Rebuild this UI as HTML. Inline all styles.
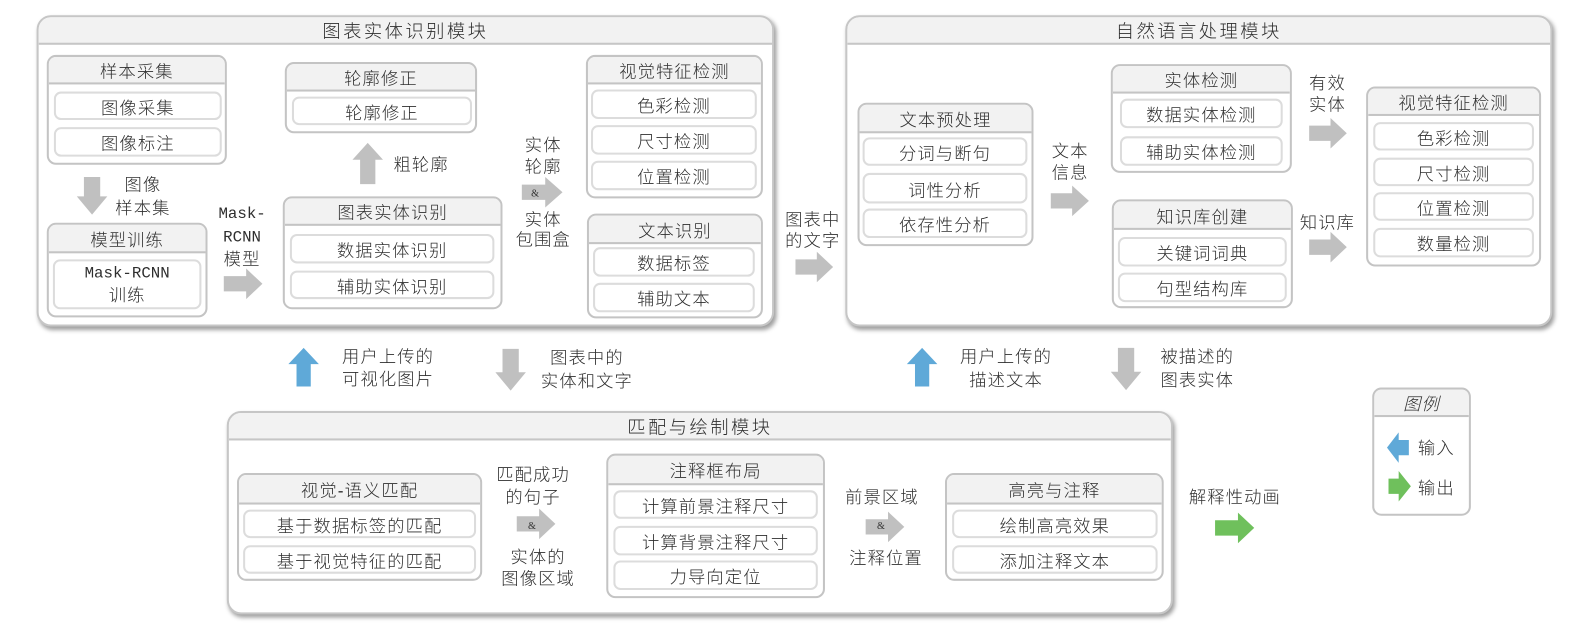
<!DOCTYPE html>
<html><head><meta charset="utf-8">
<style>
html,body{margin:0;padding:0;background:#fff;}
body{width:1595px;height:642px;overflow:hidden;position:relative;}
#c{position:absolute;left:0;top:0;width:1568px;height:632px;transform:scale(1.01722);transform-origin:0 0;
font-family:"Liberation Sans","Noto Sans CJK SC",sans-serif;font-weight:300;color:#2e2e2e;font-size:17px;letter-spacing:1.1px;}
.m{position:absolute;box-sizing:border-box;border:2px solid #c6c6c6;border-radius:14px;background:#fff;box-shadow:2px 3px 4px rgba(0,0,0,.38);overflow:hidden;}
.g{position:absolute;box-sizing:border-box;border:2px solid #c4c4c4;border-radius:9px;background:#fff;overflow:hidden;}
.h{position:absolute;left:0;top:0;right:0;box-sizing:border-box;background:#f2f2f2;border-bottom:2px solid #c4c4c4;display:flex;align-items:center;justify-content:center;white-space:nowrap;}
.m>.h{font-size:18px;letter-spacing:2.4px;border-bottom-color:#c6c6c6;}
.i{position:absolute;box-sizing:border-box;border:2px solid #dcdcdc;border-radius:7px;background:#fff;display:flex;align-items:center;justify-content:center;white-space:nowrap;text-align:center;}
.t{position:absolute;transform:translate(-50%,-50%);white-space:nowrap;line-height:1;}
.mono{font-family:"Liberation Mono",monospace;font-size:15.5px;letter-spacing:0;}
.amp{font-family:"Liberation Serif",serif;font-size:10px;letter-spacing:0;color:#333;}
svg{position:absolute;left:0;top:0;}
</style></head><body><div id="c">

<!-- main modules -->
<div class="m" style="left:36px;top:15px;width:725px;height:306px;"><div class="h" style="height:27px;">图表实体识别模块</div></div>
<div class="m" style="left:831px;top:15px;width:695px;height:306px;"><div class="h" style="height:27px;">自然语言处理模块</div></div>
<div class="m" style="left:223px;top:404px;width:930px;height:200px;"><div class="h" style="height:27px;">匹配与绘制模块</div></div>

<!-- module 1 groups -->
<div class="g" style="left:46px;top:54px;width:177px;height:108px;"><div class="h" style="height:27px;">样本采集</div></div>
<div class="i" style="left:53px;top:90px;width:165px;height:28px;">图像采集</div>
<div class="i" style="left:53px;top:125px;width:165px;height:29px;">图像标注</div>

<div class="g" style="left:46px;top:219px;width:158px;height:93px;"><div class="h" style="height:28px;">模型训练</div></div>
<div class="i" style="left:52px;top:255px;width:146px;height:49px;flex-direction:column;line-height:22px;"><span class="mono">Mask-RCNN</span><span>训练</span></div>

<div class="g" style="left:280px;top:61px;width:189px;height:70px;"><div class="h" style="height:27px;">轮廓修正</div></div>
<div class="i" style="left:287px;top:95px;width:177px;height:28px;">轮廓修正</div>

<div class="g" style="left:278px;top:193px;width:216px;height:111px;"><div class="h" style="height:27px;">图表实体识别</div></div>
<div class="i" style="left:285px;top:230px;width:201px;height:29px;">数据实体识别</div>
<div class="i" style="left:285px;top:266px;width:201px;height:28px;">辅助实体识别</div>

<div class="g" style="left:576px;top:54px;width:174px;height:141px;"><div class="h" style="height:27px;">视觉特征检测</div></div>
<div class="i" style="left:581px;top:88px;width:163px;height:29px;">色彩检测</div>
<div class="i" style="left:581px;top:123px;width:163px;height:29px;">尺寸检测</div>
<div class="i" style="left:581px;top:158px;width:163px;height:29px;">位置检测</div>

<div class="g" style="left:577px;top:210px;width:173px;height:103px;"><div class="h" style="height:28px;">文本识别</div></div>
<div class="i" style="left:583px;top:243px;width:159px;height:29px;">数据标签</div>
<div class="i" style="left:583px;top:278px;width:159px;height:29px;">辅助文本</div>

<!-- module 2 groups -->
<div class="g" style="left:843px;top:101px;width:173px;height:141px;"><div class="h" style="height:28px;">文本预处理</div></div>
<div class="i" style="left:848px;top:135px;width:162px;height:28px;">分词与断句</div>
<div class="i" style="left:848px;top:170px;width:162px;height:30px;">词性分析</div>
<div class="i" style="left:848px;top:205px;width:162px;height:29px;">依存性分析</div>

<div class="g" style="left:1092px;top:63px;width:178px;height:107px;"><div class="h" style="height:27px;">实体检测</div></div>
<div class="i" style="left:1101px;top:97px;width:160px;height:29px;">数据实体检测</div>
<div class="i" style="left:1101px;top:134px;width:160px;height:29px;">辅助实体检测</div>

<div class="g" style="left:1093px;top:196px;width:178px;height:107px;"><div class="h" style="height:28px;">知识库创建</div></div>
<div class="i" style="left:1099px;top:233px;width:166px;height:29px;">关键词词典</div>
<div class="i" style="left:1099px;top:268px;width:166px;height:29px;">句型结构库</div>

<div class="g" style="left:1343px;top:85px;width:172px;height:177px;"><div class="h" style="height:27px;">视觉特征检测</div></div>
<div class="i" style="left:1350px;top:120px;width:158px;height:28px;">色彩检测</div>
<div class="i" style="left:1350px;top:155px;width:158px;height:28px;">尺寸检测</div>
<div class="i" style="left:1350px;top:189px;width:158px;height:28px;">位置检测</div>
<div class="i" style="left:1350px;top:224px;width:158px;height:29px;">数量检测</div>

<!-- module 3 groups -->
<div class="g" style="left:233px;top:465px;width:241px;height:106px;"><div class="h" style="height:29px;">视觉-语义匹配</div></div>
<div class="i" style="left:239px;top:501px;width:229px;height:28px;">基于数据标签的匹配</div>
<div class="i" style="left:239px;top:536px;width:229px;height:28px;">基于视觉特征的匹配</div>

<div class="g" style="left:596px;top:446px;width:215px;height:142px;"><div class="h" style="height:29px;">注释框布局</div></div>
<div class="i" style="left:603px;top:482px;width:201px;height:28px;">计算前景注释尺寸</div>
<div class="i" style="left:603px;top:517px;width:201px;height:29px;">计算背景注释尺寸</div>
<div class="i" style="left:603px;top:551px;width:201px;height:29px;">力导向定位</div>

<div class="g" style="left:929px;top:465px;width:215px;height:106px;"><div class="h" style="height:29px;">高亮与注释</div></div>
<div class="i" style="left:936px;top:501px;width:202px;height:28px;">绘制高亮效果</div>
<div class="i" style="left:936px;top:536px;width:202px;height:28px;">添加注释文本</div>

<!-- legend -->
<div class="g" style="left:1349px;top:381px;width:97px;height:126px;"><div class="h" style="height:27px;font-style:italic;">图例</div></div>

<!-- arrows -->
<svg width="1568" height="632" viewBox="0 0 1568 632">
<g fill="#c0c0c0">
<polygon points="220,271.5 242,271.5 242,264 258,279 242,294 242,286.5 220,286.5"/>
<polygon points="513,181.5 536,181.5 536,174 553,189 536,204 536,196.5 513,196.5"/>
<polygon points="782,255 803,255 803,247.5 819,262.5 803,277.5 803,270 782,270"/>
<polygon points="1033,190 1054,190 1054,182.5 1070.5,197.5 1054,212.5 1054,205 1033,205"/>
<polygon points="1287,123.5 1308,123.5 1308,116 1324,131 1308,146 1308,138.5 1287,138.5"/>
<polygon points="1287,235.5 1308,235.5 1308,228 1324,243 1308,258 1308,250.5 1287,250.5"/>
<polygon points="508,507.5 530,507.5 530,500 546,515 530,530 530,522.5 508,522.5"/>
<polygon points="851,510.5 873,510.5 873,503 889,518 873,533 873,525.5 851,525.5"/>
<!-- down -->
<polygon points="82.5,174 98.5,174 98.5,193 105.5,193 90.5,211 75.5,193 82.5,193"/>
<polygon points="494,343 510,343 510,366 517,366 502,384 487,366 494,366"/>
<polygon points="1099,342 1115,342 1115,365.5 1122,365.5 1107,383.5 1092,365.5 1099,365.5"/>
<!-- up gray -->
<polygon points="361.5,140.5 376.5,157 369,157 369,181 354,181 354,157 346.5,157"/>
</g>
<g fill="#5fa9d8">
<polygon points="298.5,342 313.5,358 305.5,358 305.5,380 291.5,380 291.5,358 283.5,358"/>
<polygon points="906.5,342 921.5,358 913.5,358 913.5,380 899.5,380 899.5,358 891.5,358"/>
<polygon points="1363.5,440 1375,425 1375,432.5 1385,432.5 1385,447.5 1375,447.5 1375,455"/>
</g>
<g fill="#6fc05c">
<polygon points="1194.5,511.5 1217,511.5 1217,504 1233,519 1217,534 1217,526.5 1194.5,526.5"/>
<polygon points="1365,470.5 1375,470.5 1375,463 1387,478 1375,493 1375,485.5 1365,485.5"/>
</g>
</svg>

<!-- labels -->
<div class="t" style="left:140.5px;top:182px;">图像</div>
<div class="t" style="left:140.5px;top:204.5px;">样本集</div>
<div class="t mono" style="left:238px;top:211px;">Mask-</div>
<div class="t mono" style="left:238px;top:234px;">RCNN</div>
<div class="t" style="left:238px;top:255px;">模型</div>
<div class="t" style="left:414px;top:162px;">粗轮廓</div>
<div class="t" style="left:534px;top:142.5px;">实体</div>
<div class="t" style="left:534px;top:164px;">轮廓</div>
<div class="t amp" style="left:526px;top:190.5px;">&amp;</div>
<div class="t" style="left:534px;top:216px;">实体</div>
<div class="t" style="left:534px;top:236px;">包围盒</div>
<div class="t" style="left:799px;top:216px;">图表中</div>
<div class="t" style="left:799px;top:237px;">的文字</div>
<div class="t" style="left:1052px;top:149px;">文本</div>
<div class="t" style="left:1052px;top:170px;">信息</div>
<div class="t" style="left:1305px;top:82px;">有效</div>
<div class="t" style="left:1305px;top:103px;">实体</div>
<div class="t" style="left:1305px;top:219px;">知识库</div>

<div class="t" style="left:381.5px;top:351px;">用户上传的</div>
<div class="t" style="left:381.5px;top:373px;">可视化图片</div>
<div class="t" style="left:577px;top:352px;">图表中的</div>
<div class="t" style="left:577px;top:375px;">实体和文字</div>
<div class="t" style="left:989px;top:351px;">用户上传的</div>
<div class="t" style="left:989px;top:374px;">描述文本</div>
<div class="t" style="left:1177px;top:351px;">被描述的</div>
<div class="t" style="left:1177px;top:374px;">图表实体</div>

<div class="t" style="left:524px;top:467px;">匹配成功</div>
<div class="t" style="left:524px;top:488.5px;">的句子</div>
<div class="t amp" style="left:523px;top:518px;">&amp;</div>
<div class="t" style="left:529px;top:547.5px;">实体的</div>
<div class="t" style="left:529px;top:568.5px;">图像区域</div>
<div class="t" style="left:867px;top:488.5px;">前景区域</div>
<div class="t amp" style="left:866px;top:518px;">&amp;</div>
<div class="t" style="left:871px;top:548.5px;">注释位置</div>
<div class="t" style="left:1214px;top:488.5px;">解释性动画</div>

<div class="t" style="left:1412px;top:440.5px;">输入</div>
<div class="t" style="left:1412px;top:480px;">输出</div>

</div></body></html>
